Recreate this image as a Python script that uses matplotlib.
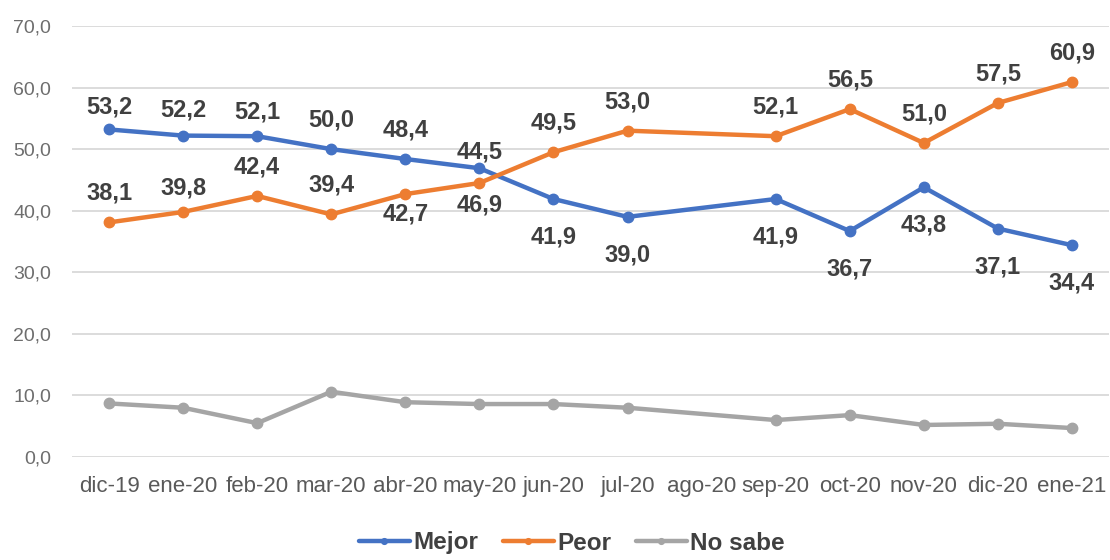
import matplotlib
matplotlib.use("Agg")
import matplotlib.pyplot as plt
from matplotlib.ticker import FuncFormatter, MultipleLocator
import numpy as np

plt.rcParams['font.family'] = ['Liberation Sans', 'DejaVu Sans']

categories = ["dic-19", "ene-20", "feb-20", "mar-20", "abr-20", "may-20", "jun-20",
              "jul-20", "ago-20", "sep-20", "oct-20", "nov-20", "dic-20", "ene-21"]
mejor = [53.2, 52.2, 52.1, 50.0, 48.4, 46.9, 41.9, 39.0, None, 41.9, 36.7, 43.8, 37.1, 34.4]
peor = [38.1, 39.8, 42.4, 39.4, 42.7, 44.5, 49.5, 53.0, None, 52.1, 56.5, 51.0, 57.5, 60.9]
no_sabe = [8.7, 8.0, 5.5, 10.6, 8.9, 8.6, 8.6, 8.0, None, 6.0, 6.8, 5.2, 5.4, 4.7]
# data label texts as printed on the chart
mejor_labels = ["53,2", "52,2", "52,1", "50,0", "48,4", "44,5", "41,9", "39,0", None,
                "41,9", "36,7", "43,8", "37,1", "34,4"]
peor_labels = ["38,1", "39,8", "42,4", "39,4", "42,7", "46,9", "49,5", "53,0", None,
               "52,1", "56,5", "51,0", "57,5", "60,9"]

C_MEJOR = "#4472C4"
C_PEOR = "#ED7D31"
C_NS = "#A5A5A5"

fig = plt.figure(figsize=(11.1, 5.6), dpi=100)
ax = fig.add_axes([72 / 1110, 1 - 457 / 560, 1037 / 1110, 431 / 560])

x = np.arange(len(categories))


def valid(vals):
    idx = [i for i, v in enumerate(vals) if v is not None]
    return np.array(idx), np.array([vals[i] for i in idx])


for vals, col, name in [(mejor, C_MEJOR, "Mejor"), (peor, C_PEOR, "Peor"), (no_sabe, C_NS, "No sabe")]:
    xi, yi = valid(vals)
    ax.plot(xi, yi, color=col, lw=3.2, marker="o", markersize=7.5, label=name,
            solid_capstyle="round", zorder=3)

# label placement: +1 above, -1 below
mejor_side = [1, 1, 1, 1, 1, 1, -1, -1, 0, -1, -1, -1, -1, -1]
peor_side = [1, 1, 1, 1, -1, -1, 1, 1, 0, 1, 1, 1, 1, 1]
special_mejor = {0: 22, 1: 26, 2: 24, 5: 16}
special_peor = {1: 24, 4: -20, 5: -22}

for vals, labels, side, special in [(mejor, mejor_labels, mejor_side, special_mejor),
                                     (peor, peor_labels, peor_side, special_peor)]:
    for i, (v, t) in enumerate(zip(vals, labels)):
        if v is None:
            continue
        off = special.get(i, 29 if side[i] > 0 else -38)
        ax.annotate(t, (i, v), xytext=(0, off), textcoords="offset pixels",
                    ha="center", va="center", fontsize=17, fontweight="bold",
                    color="#404040", zorder=4)

ax.set_xlim(-0.5, len(categories) - 0.5)
ax.set_ylim(0, 70)
ax.yaxis.set_major_locator(MultipleLocator(10))
ax.yaxis.set_major_formatter(FuncFormatter(lambda v, p: f"{v:.1f}".replace(".", ",")))
ax.set_xticks(x)
ax.set_xticklabels(categories)
ax.grid(axis="y", color="#D9D9D9", lw=1.3, zorder=0)
ax.set_axisbelow(True)
for s in ax.spines.values():
    s.set_visible(False)
ax.tick_params(axis="x", length=0, pad=14, labelsize=16, labelcolor="#595959")
ax.tick_params(axis="y", length=0, pad=15, labelsize=14, labelcolor="#6E6E6E")

leg = fig.legend(loc="center", bbox_to_anchor=(572 / 1110, 1 - 543 / 560), ncol=3,
                 frameon=False, handlelength=2.1, handletextpad=0.15, columnspacing=1.0,
                 prop={"size": 17.5, "weight": "bold"}, markerscale=0.55)
for txt in leg.get_texts():
    txt.set_color("#404040")

fig.savefig("out.png", dpi=100)
